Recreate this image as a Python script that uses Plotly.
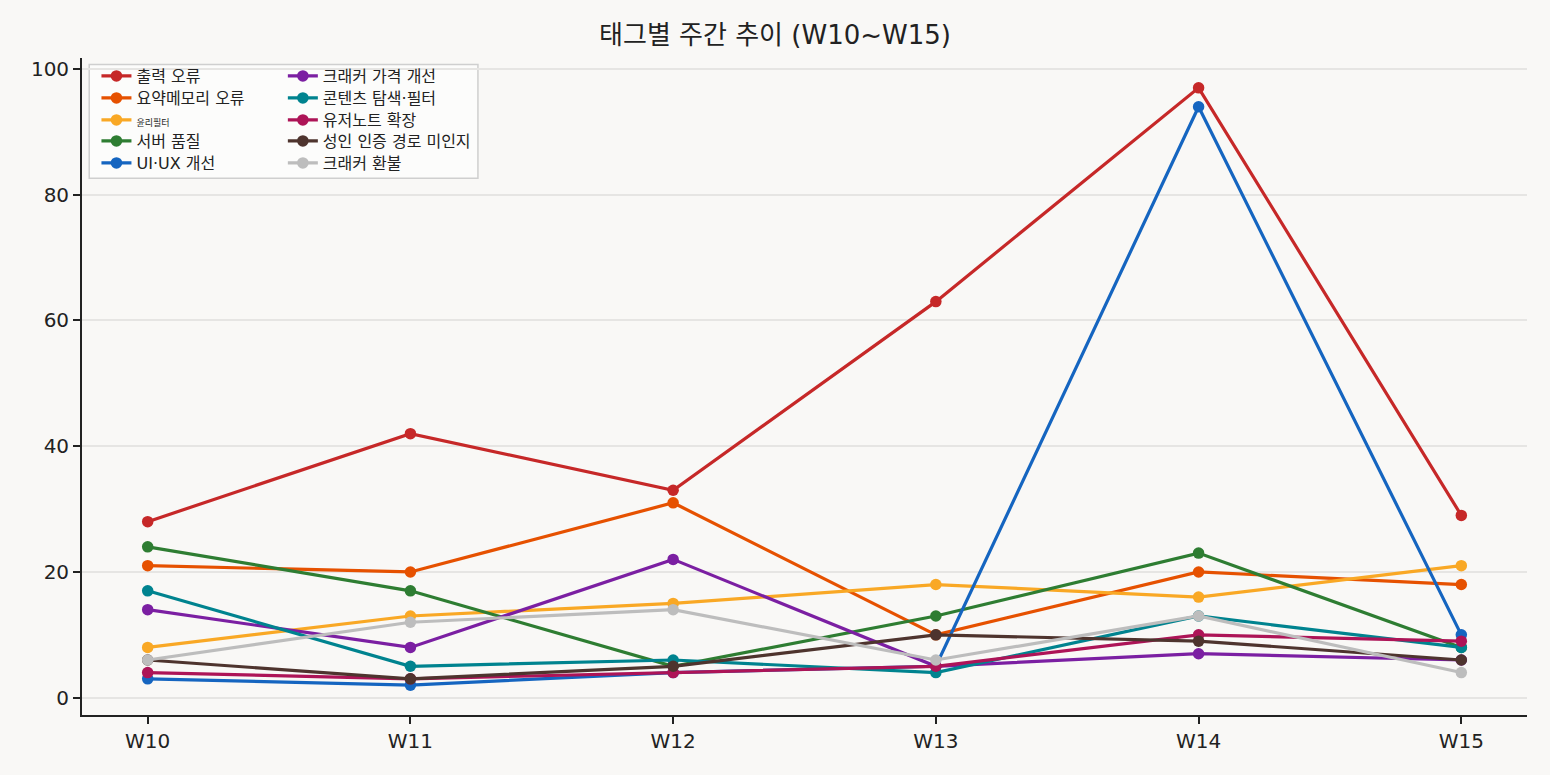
import plotly.graph_objects as go

weeks = ["W10", "W11", "W12", "W13", "W14", "W15"]

tags = ["출력 오류", "요약메모리 오류", "윤리필터", "서버 품질", "UI·UX 개선",
        "크래커 가격 개선", "콘텐츠 탐색·필터", "유저노트 확장", "성인 인증 경로 미인지", "크래커 환불"]

output_err = [28, 42, 33, 63, 97, 29]
memory_err = [21, 20, 31, 10, 20, 18]
ethics_filter = [8, 13, 15, 18, 16, 21]
server_quality = [24, 17, 5, 13, 23, 8]
uiux = [3, 2, 4, 5, 94, 10]
cracker_price = [14, 8, 22, 5, 7, 6]
content_search = [17, 5, 6, 4, 13, 8]
usernote = [4, 3, 4, 5, 10, 9]
adult_auth = [6, 3, 5, 10, 9, 6]
cracker_refund = [6, 12, 14, 6, 13, 4]

series = [output_err, memory_err, ethics_filter, server_quality, uiux,
          cracker_price, content_search, usernote, adult_auth, cracker_refund]
colors = ["#c62828", "#e65100", "#f9a825", "#2e7d32", "#1565c0",
          "#7b1fa2", "#00838f", "#ad1457", "#4e342e", "#bdbdbd"]

# plot area in pixels, used to place the legend rows
PL, PT, PW, PH = 82, 58, 1445, 657
row_px = [76, 98, 120, 141, 163]
col_x = [0.010, 0.139]

fig = go.Figure()
legends = {}
for i, (name, vals, c) in enumerate(zip(tags, series, colors)):
    label = name
    if name == "윤리필터":
        # this one is rendered tiny in the original
        label = '<span style="font-size:9px">윤리필터</span>'
    key = "legend" if i == 0 else "legend%d" % (i + 1)
    fig.add_trace(go.Scatter(x=weeks, y=vals, name=label, mode="lines+markers",
                             line=dict(color=c, width=3.2),
                             marker=dict(color=c, size=11.5),
                             legend=key))
    legends[key] = dict(x=col_x[i // 5], y=(PT + PH - row_px[i % 5]) / PH,
                        xanchor="left", yanchor="middle", bgcolor="rgba(0,0,0,0)",
                        borderwidth=0, font=dict(size=16, color="#222"),
                        itemwidth=30)

bg = "#f9f8f6"
fig.update_layout(
    width=1550, height=775,
    paper_bgcolor=bg, plot_bgcolor=bg,
    font=dict(family="DejaVu Sans, Noto Sans CJK KR, sans-serif", size=20, color="#222"),
    title=dict(text="태그별 주간 추이 (W10~W15)", x=0.5, xanchor="center",
               y=1 - 35 / 775, yanchor="middle",
               font=dict(size=26, color="#222")),
    margin=dict(l=PL, r=1550 - PL - PW, t=PT, b=775 - PT - PH),
    showlegend=True,
    shapes=[dict(type="rect", xref="paper", yref="paper",
                 x0=0.005, x1=0.274, y0=0.817, y1=0.990,
                 line=dict(color="#cfcfcf", width=1.5),
                 fillcolor="rgba(255,255,255,0.5)", layer="below")],
    **legends,
)
fig.update_xaxes(range=[-0.25, 5.25], showline=True, linecolor="#222", linewidth=1.8,
                 ticks="outside", ticklen=7, tickwidth=1.6, tickcolor="#222", showgrid=False,
                 zeroline=False, tickfont=dict(size=20))
fig.update_yaxes(range=[-2.75, 101.75], showline=True, linecolor="#222", linewidth=1.8,
                 ticks="outside", ticklen=7, tickwidth=1.6, tickcolor="#222", showgrid=True,
                 gridcolor="#e6e5e3", gridwidth=1.5, zeroline=False,
                 tickvals=[0, 20, 40, 60, 80, 100], tickfont=dict(size=20))

fig.write_html("out.html", config={"displayModeBar": False},
               post_script="document.body.style.margin='0';")
